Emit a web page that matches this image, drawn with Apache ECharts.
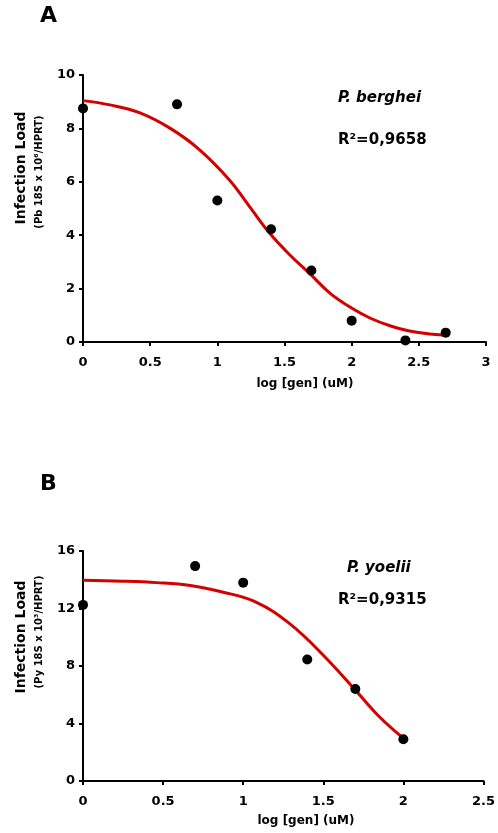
<!DOCTYPE html>
<html>
<head>
<meta charset="utf-8">
<script src="https://cdn.jsdelivr.net/npm/echarts@6/dist/echarts.min.js"></script>
<style>
html,body{margin:0;padding:0;background:#fff;}
#c{width:498px;height:833px;}
</style>
</head>
<body>
<div id="c"></div>
<script>
// Panel A: P. berghei
var xA = [0, 0.7, 1.0, 1.4, 1.7, 2.0, 2.4, 2.7];
var yA = [8.75, 8.9, 5.3, 4.22, 2.68, 0.8, 0.06, 0.35];
var fitXA = [0, 0.2, 0.42, 0.65, 0.87, 1.09, 1.24, 1.39, 1.54, 1.69, 1.84, 1.99, 2.14, 2.29, 2.43, 2.58, 2.68];
var fitYA = [9.04, 8.88, 8.59, 8.0, 7.19, 6.07, 5.07, 4.07, 3.26, 2.55, 1.82, 1.30, 0.89, 0.60, 0.41, 0.30, 0.26];
// Panel B: P. yoelii
var xB = [0, 0.7, 1.0, 1.4, 1.7, 2.0];
var yB = [12.25, 14.95, 13.8, 8.45, 6.4, 2.9];
var fitXB = [0, 0.25, 0.46, 0.67, 0.87, 1.08, 1.29, 1.5, 1.71, 1.85, 2.0];
var fitYB = [13.96, 13.9, 13.8, 13.6, 13.15, 12.45, 10.95, 8.75, 6.2, 4.47, 2.97];

var panelLetters = ['A', 'B'];
var speciesNames = ['P. berghei', 'P. yoelii'];
var r2Labels = ['R\u00b2=0,9658', 'R\u00b2=0,9315'];
var yNameMain = 'Infection Load';
var yNameSubs = ['(Pb 18S x 10\u2076/HPRT)', '(Py 18S x 10\u00b3/HPRT)'];
var xName = 'log [gen] (uM)';

function zip(a, b) { return a.map(function (v, i) { return [v, b[i]]; }); }

var FONT = '"DejaVu Sans", sans-serif';
var RED = '#d40000';

function xAxisCfg(idx, max) {
  return {
    type: 'value', gridIndex: idx, min: 0, max: max, interval: 0.5,
    axisLine: { show: true, onZero: false, lineStyle: { color: '#000', width: 2 } },
    axisTick: { show: true, inside: false, length: 4, lineStyle: { color: '#000', width: 2 } },
    axisLabel: { color: '#000', fontFamily: FONT, fontWeight: 'bold', fontSize: 13, margin: 14 },
    splitLine: { show: false }
  };
}
function yAxisCfg(idx, max, interval) {
  return {
    type: 'value', gridIndex: idx, min: 0, max: max, interval: interval,
    axisLine: { show: true, onZero: false, lineStyle: { color: '#000', width: 2 } },
    axisTick: { show: true, inside: false, length: 4, lineStyle: { color: '#000', width: 2 } },
    axisLabel: { color: '#000', fontFamily: FONT, fontWeight: 'bold', fontSize: 13, margin: 8 },
    splitLine: { show: false }
  };
}
function txt(text, x, y, size, opts) {
  opts = opts || {};
  return {
    type: 'text', x: x, y: y, rotation: opts.rot || 0, z: 100,
    style: {
      text: text,
      fill: '#000',
      fontFamily: FONT,
      fontWeight: 'bold',
      fontStyle: opts.italic ? 'italic' : 'normal',
      fontSize: size,
      align: opts.align || 'left',
      verticalAlign: 'middle',
      textAlign: opts.align || 'left',
      textVerticalAlign: 'middle'
    }
  };
}

var chart = echarts.init(document.getElementById('c'), null, { renderer: 'canvas' });
chart.setOption({
  backgroundColor: '#fff',
  animation: false,
  grid: [
    { left: 83, top: 75, width: 403, height: 267 },
    { left: 83, top: 551, width: 401, height: 230 }
  ],
  xAxis: [xAxisCfg(0, 3), xAxisCfg(1, 2.5)],
  yAxis: [yAxisCfg(0, 10, 2), yAxisCfg(1, 16, 4)],
  series: [
    { type: 'line', xAxisIndex: 0, yAxisIndex: 0, data: zip(fitXA, fitYA), smooth: 0.4,
      showSymbol: false, lineStyle: { color: RED, width: 3 }, z: 2 },
    { type: 'scatter', xAxisIndex: 0, yAxisIndex: 0, data: zip(xA, yA), symbolSize: 10,
      itemStyle: { color: '#000', opacity: 1 }, z: 3 },
    { type: 'line', xAxisIndex: 1, yAxisIndex: 1, data: zip(fitXB, fitYB), smooth: 0.4,
      showSymbol: false, lineStyle: { color: RED, width: 3 }, z: 2 },
    { type: 'scatter', xAxisIndex: 1, yAxisIndex: 1, data: zip(xB, yB), symbolSize: 10,
      itemStyle: { color: '#000', opacity: 1 }, z: 3 }
  ],
  graphic: [
    txt(panelLetters[0], 40, 16, 22),
    txt(panelLetters[1], 40, 484, 22),
    txt(speciesNames[0], 338, 98, 15, { italic: true }),
    txt(r2Labels[0], 338, 140, 15),
    txt(speciesNames[1], 347, 568, 15, { italic: true }),
    txt(r2Labels[1], 338, 600, 15),
    txt(yNameMain, 21, 168, 14, { rot: Math.PI / 2, align: 'center' }),
    txt(yNameSubs[0], 39, 172, 10, { rot: Math.PI / 2, align: 'center' }),
    txt(yNameMain, 21, 637, 14, { rot: Math.PI / 2, align: 'center' }),
    txt(yNameSubs[1], 39, 632, 10, { rot: Math.PI / 2, align: 'center' }),
    txt(xName, 305, 384, 12, { align: 'center' }),
    txt(xName, 306, 821, 12, { align: 'center' })
  ]
});
</script>
</body>
</html>
